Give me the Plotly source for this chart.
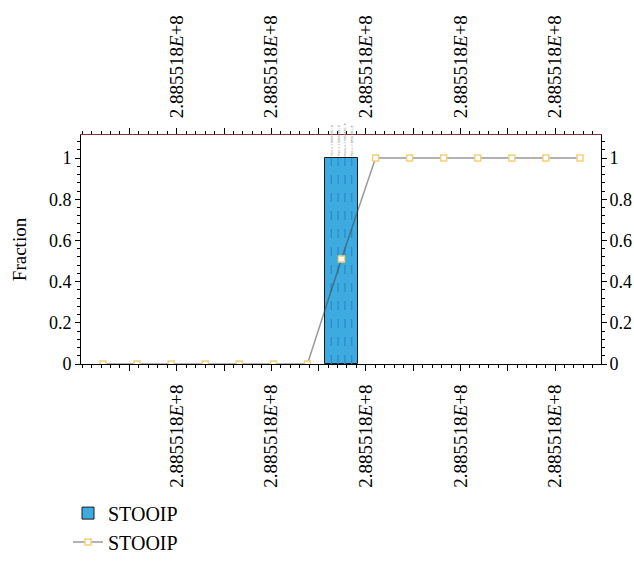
import plotly.graph_objects as go

# ---------------- data ----------------
# x positions are expressed as bin index units along the (very narrow) STOOIP range
hist_x = [7.0]
hist_frac = [1.0]
hist_width = [0.95]

cdf_x = [0, 1, 2, 3, 4, 5, 6, 7, 8, 9, 10, 11, 12, 13, 14]
cdf_y = [0, 0, 0, 0, 0, 0, 0, 0.51, 1, 1, 1, 1, 1, 1, 1]

pct_x = [6.7, 6.9, 7.1, 7.3]
pct_labels = ["P10 = 2.885518E+8", "P50 = 2.885518E+8", "Mean = 2.885518E+8", "P90 = 2.885518E+8"]

major_ticks = [0.776, 2.164, 3.552, 4.940, 6.328, 7.716, 9.104, 10.492, 11.880, 13.268]
tick_label = "2.885518<i>E</i>+8"
tick_texts = ["", tick_label, "", tick_label, "", tick_label, "", tick_label, "", tick_label]

y_ticks = [0, 0.2, 0.4, 0.6, 0.8, 1]
y_tick_text = ["0", "0.2", "0.4", "0.6", "0.8", "1"]

x_range = [-0.646, 14.617]
y_range = [0, 1.112]

FONT = "Liberation Serif"

fig = go.Figure()

fig.add_trace(go.Bar(
    x=hist_x, y=hist_frac, width=hist_width, name="STOOIP",
    marker=dict(color="#3DAAE0", line=dict(color="#1a1a1a", width=1)),
    xaxis="x", yaxis="y",
))

for px in pct_x:
    fig.add_trace(go.Scatter(
        x=[px, px], y=[0, hist_frac[0]], mode="lines",
        line=dict(color="#2A8DC8", width=1.3, dash="dash"),
        showlegend=False, hoverinfo="skip", xaxis="x", yaxis="y",
    ))

fig.add_trace(go.Scatter(
    x=cdf_x, y=cdf_y, name="STOOIP", mode="lines+markers",
    line=dict(color="rgba(70,70,70,0.55)", width=1.5),
    marker=dict(symbol="square", size=6, color="#FFFFFF",
                line=dict(color="#F5CF78", width=1.5)),
    xaxis="x2", yaxis="y2",
))

for px, lab in zip(pct_x, pct_labels):
    fig.add_annotation(
        x=px, y=hist_frac[0], xref="x", yref="y", text=lab, showarrow=False,
        textangle=-90, xanchor="center", yanchor="bottom",
        font=dict(family="DejaVu Sans", size=3, color="#888888"),
    )

common_x = dict(
    range=x_range, tickmode="array", tickvals=major_ticks, ticktext=tick_texts,
    tickangle=-90, ticks="outside", ticklen=6, tickwidth=1, tickcolor="#000",
    ticklabelstandoff=6,
    minor=dict(tickmode="linear", tick0=major_ticks[0], dtick=(major_ticks[1] - major_ticks[0]) / 5,
               ticks="outside", ticklen=3, tickwidth=1, tickcolor="#000"),
    showline=True, linewidth=1, showgrid=False, zeroline=False, automargin=False,
    tickfont=dict(family=FONT, size=19, color="#000"),
)

common_y = dict(
    range=y_range, tickmode="array", tickvals=y_ticks, ticktext=y_tick_text,
    ticks="outside", ticklen=5, tickwidth=1, tickcolor="#000",
    minor=dict(tickmode="linear", tick0=0, dtick=0.04,
               ticks="outside", ticklen=3, tickwidth=1, tickcolor="#000"),
    showline=True, linewidth=1, linecolor="#000", showgrid=False, zeroline=False,
    automargin=False,
    tickfont=dict(family=FONT, size=18, color="#000"),
)

fig.update_layout(
    width=634, height=578,
    margin=dict(l=81, r=33, t=135, b=214),
    paper_bgcolor="white", plot_bgcolor="white",
    font=dict(family=FONT, size=19, color="#000"),
    xaxis=dict(**common_x, side="bottom", linecolor="#000", anchor="y"),
    xaxis2=dict(**common_x, side="top", linecolor="#7E3535", overlaying="x", anchor="y"),
    yaxis=dict(**common_y, side="left",
               title=dict(text="Fraction", font=dict(family=FONT, size=19), standoff=17)),
    yaxis2=dict(**common_y, side="right", overlaying="y", anchor="x", ticklabelstandoff=-1),
    showlegend=True,
    legend=dict(x=-0.025, y=-0.566, xanchor="left", yanchor="top",
                font=dict(family=FONT, size=20, color="#000"),
                bgcolor="rgba(0,0,0,0)", tracegroupgap=0, itemwidth=30),
    bargap=0,
)

fig.write_html(
    "out.html",
    config={"displayModeBar": False},
    post_script="document.body.style.margin='0';document.body.style.overflow='hidden';",
)
